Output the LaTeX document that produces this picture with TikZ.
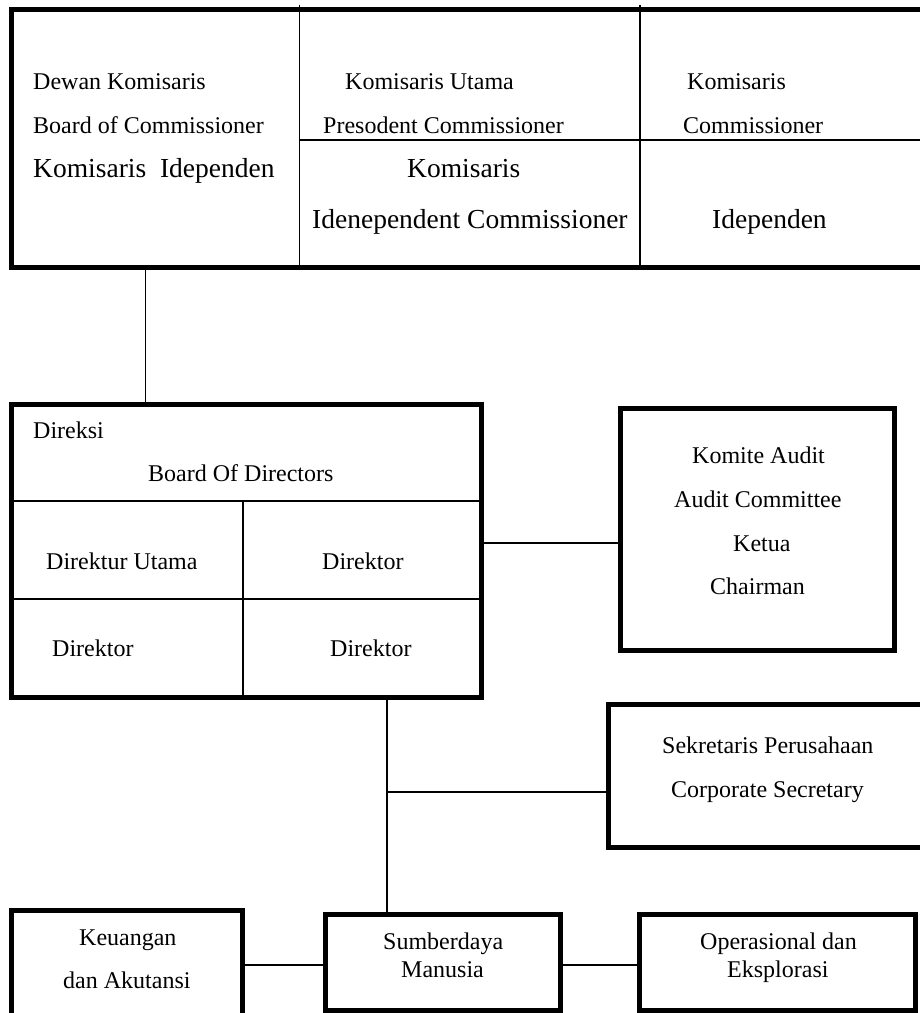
\documentclass[tikz,border=0pt]{standalone}
\usepackage{fontspec}
\setmainfont{Liberation Serif}
\newcommand\lblsz{\fontsize{24}{28}\selectfont}
\newcommand\biglblsz{\fontsize{27.5}{32}\selectfont}
\begin{document}
\begin{tikzpicture}[x=1pt,y=-1pt,
  frame/.style={draw, line width=5pt, rectangle, anchor=north west, inner sep=0pt, outer sep=0pt},
  rule/.style={line width=1.8pt},
  link/.style={line width=1.8pt},
  lbl/.style={anchor=base west, inner sep=0pt, font=\lblsz},
  biglbl/.style={anchor=base west, inner sep=0pt, font=\biglblsz}]
\clip (0,0) rectangle (920,1013);
\fill[white] (0,0) rectangle (920,1013);

% Board of Commissioners (runs past the right edge)
\node[frame, minimum width=930pt, minimum height=258pt] (boc) at (11.5,9.5) {};
\draw[rule] (299.5,5) -- (299.5,265);
\draw[rule] (640,5) -- (640,265);
\draw[rule] (299.5,140) -- (940,140);
\node[lbl] (boc1) at (33,89) {Dewan Komisaris};
\node[lbl] (boc2) at (33,133) {Board of Commissioner};
\node[biglbl] (boc3) at (33,177) {Komisaris\ \ Idependen};
\node[lbl] (pc1) at (345,89) {Komisaris Utama};
\node[lbl] (pc2) at (323,133) {Presodent Commissioner};
\node[biglbl] (ic1) at (407,177) {Komisaris};
\node[biglbl] (ic2) at (312,228) {Idenependent Commissioner};
\node[lbl] (c1) at (687,89) {Komisaris};
\node[lbl] (c2) at (683,133) {Commissioner};
\node[biglbl] (c3) at (712,228) {Idependen};

% Board of Directors
\node[frame, minimum width=469.5pt, minimum height=293.5pt] (bod) at (11.5,404) {};
\draw[rule] (11.5,501) -- (481,501);
\draw[rule] (11.5,599) -- (481,599);
\draw[rule] (243,501) -- (243,697.5);
\node[lbl] (bod1) at (33,438) {Direksi};
\node[lbl] (bod2) at (148,481) {Board Of Directors};
\node[lbl] (d1) at (46,569) {Direktur Utama};
\node[lbl] (d2) at (322,569) {Direktor};
\node[lbl] (d3) at (52,656) {Direktor};
\node[lbl] (d4) at (330,656) {Direktor};

% Audit Committee
\node[frame, minimum width=274pt, minimum height=242.5pt] (aud) at (620.5,408) {};
\node[lbl] (aud1) at (692,463) {Komite Audit};
\node[lbl] (aud2) at (674,507) {Audit Committee};
\node[lbl] (aud3) at (733,551) {Ketua};
\node[lbl] (aud4) at (710,594) {Chairman};

% Corporate Secretary (runs past the right edge)
\node[frame, minimum width=330pt, minimum height=143pt] (sek) at (608.5,704.5) {};
\node[lbl] (sek1) at (662,753) {Sekretaris Perusahaan};
\node[lbl] (sek2) at (671,797) {Corporate Secretary};

% Departments
\node[frame, minimum width=231pt, minimum height=130pt] (keu) at (11.5,910.5) {};
\node[lbl] (keu1) at (79,945) {Keuangan};
\node[lbl] (keu2) at (63,988) {dan Akutansi};
\node[frame, minimum width=235pt, minimum height=96pt] (sdm) at (325,914.5) {};
\node[lbl] (sdm1) at (383,949) {Sumberdaya};
\node[lbl] (sdm2) at (401,977) {Manusia};
\node[frame, minimum width=275.5pt, minimum height=96pt] (ops) at (639.5,914.5) {};
\node[lbl] (ops1) at (700,949) {Operasional dan};
\node[lbl] (ops2) at (727,977) {Eksplorasi};

% Connectors
\coordinate (tap) at (145.5,300);
\coordinate (spine) at (387,800);
\coordinate (audlink) at (550,543);
\coordinate (seklink) at (500,792);
\coordinate (deptlink) at (600,965);
\draw[link] (boc.south -| tap) -- (bod.north -| tap);
\draw[link] (bod.east |- audlink) -- (aud.west |- audlink);
\draw[link] (bod.south -| spine) -- (sdm.north -| spine);
\draw[link] (spine |- seklink) -- (sek.west |- seklink);
\draw[link] (keu.east |- deptlink) -- (sdm.west |- deptlink);
\draw[link] (sdm.east |- deptlink) -- (ops.west |- deptlink);
\end{tikzpicture}
\end{document}
